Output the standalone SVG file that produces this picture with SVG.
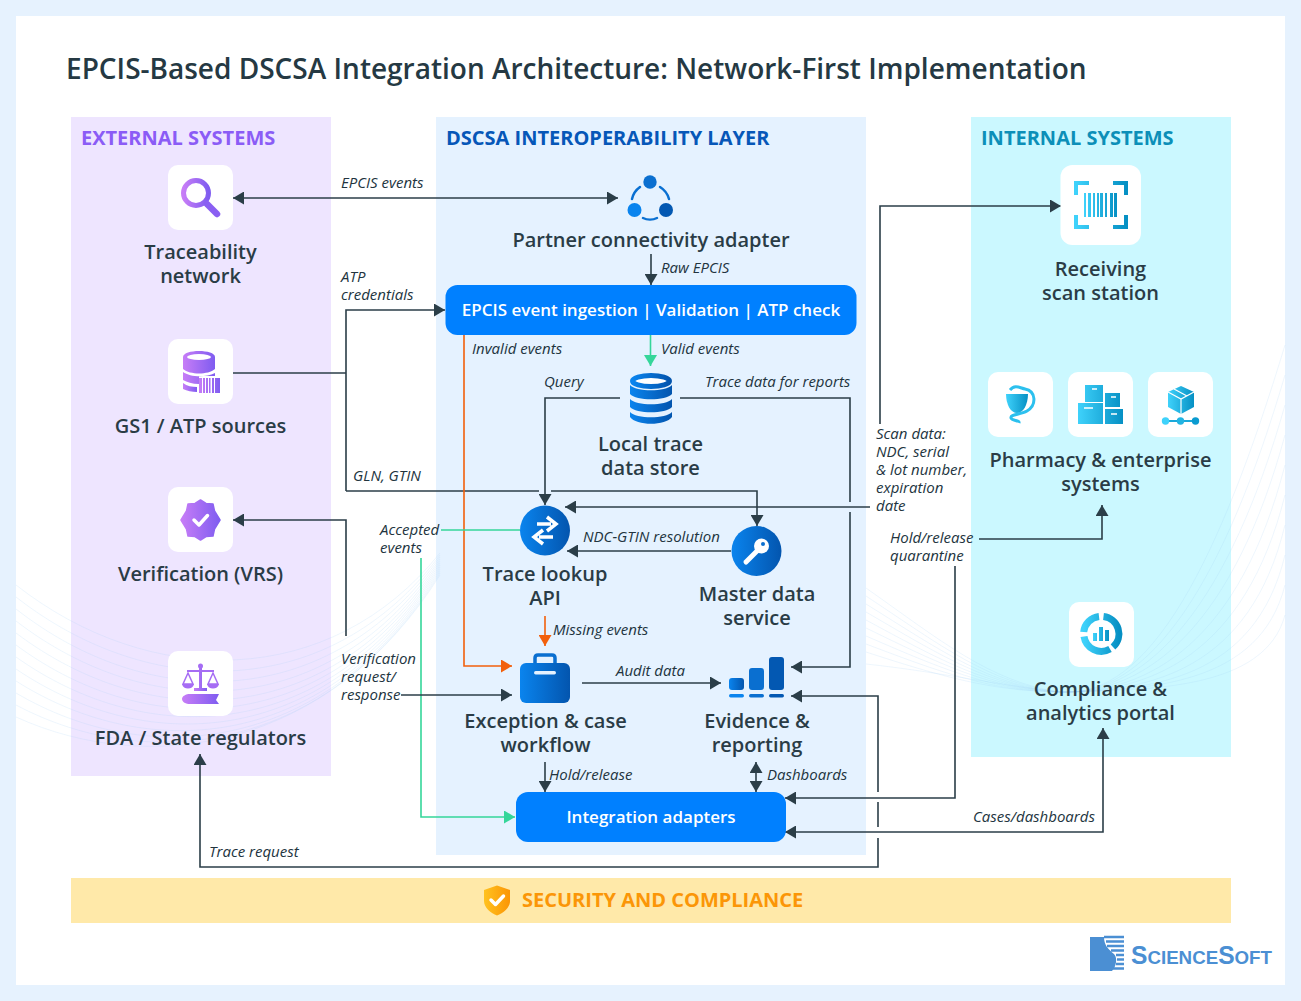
<svg xmlns="http://www.w3.org/2000/svg" width="1301" height="1001" viewBox="0 0 1301 1001">
<style>
text{font-family:"Open Sans","Noto Sans","Liberation Sans",sans-serif}
.title{font-size:28px;font-weight:600;fill:#253943}
.hd{font-size:20px;font-weight:700}
.n{font-size:20px;font-weight:600;fill:#2A3C46;text-anchor:middle}
.l{font-size:15px;font-style:italic;fill:#22343E}
.w{font-size:17px;font-weight:600;fill:#fff;text-anchor:middle}
.tile{fill:#fff}
.c{fill:none;stroke:#2B3E48;stroke-width:1.6}
.g{fill:none;stroke:#35D69A;stroke-width:1.6}
.o{fill:none;stroke:#F2600C;stroke-width:1.6}
.wv{fill:none;stroke:#9CCBF2;stroke-width:.8;opacity:.22}
.pu{fill:url(#pu)}
.bl{fill:url(#bl)}
.cy{fill:url(#cy)}
</style>
<defs>
<linearGradient id="pu"><stop offset="0" stop-color="#C77DF7"/><stop offset="1" stop-color="#7F5CF0"/></linearGradient>
<linearGradient id="bl"><stop offset="0" stop-color="#0A84EE"/><stop offset="1" stop-color="#0355AE"/></linearGradient>
<linearGradient id="cy"><stop offset="0" stop-color="#3FD2FB"/><stop offset="1" stop-color="#0690C4"/></linearGradient>
<linearGradient id="ye"><stop offset="0" stop-color="#FFC21F"/><stop offset="1" stop-color="#FB9505"/></linearGradient>
<marker id="a" markerUnits="userSpaceOnUse" markerWidth="12" markerHeight="13" refX="11" refY="6.500" orient="auto-start-reverse"><path d="M0,0L11,6.500L0,13Z" fill="#2B3E48"/></marker>
<marker id="ag" markerUnits="userSpaceOnUse" markerWidth="12" markerHeight="13" refX="11" refY="6.500" orient="auto"><path d="M0,0L11,6.500L0,13Z" fill="#35D69A"/></marker>
<marker id="ao" markerUnits="userSpaceOnUse" markerWidth="12" markerHeight="13" refX="11" refY="6.500" orient="auto"><path d="M0,0L11,6.500L0,13Z" fill="#F2600C"/></marker>
</defs>

<rect width="1301" height="1001" fill="#E6F2FE"/>
<rect x="16" y="16" width="1269" height="969" fill="#fff"/>
<text class="title" x="66" y="79">EPCIS-Based DSCSA Integration Architecture: Network-First Implementation</text>

<g id="panels">
<rect x="71" y="117" width="260" height="659" fill="#EEE5FF"/>
<rect x="436" y="117" width="430" height="738" fill="#E5F2FF"/>
<rect x="971" y="117" width="260" height="640" fill="#CBF8FF"/>
<rect x="71" y="878" width="1160" height="45" fill="#FFE9A9"/>
<text class="hd" x="81" y="145" fill="#8B5CF6">EXTERNAL SYSTEMS</text>
<text class="hd" x="446" y="145" fill="#0657B8">DSCSA INTEROPERABILITY LAYER</text>
<text class="hd" x="981" y="145" fill="#0C8FB8">INTERNAL SYSTEMS</text>
</g>

<g id="waves">
<path class="wv" d="M16,585C150,690 330,690 440,553"/>
<path class="wv" d="M16,597C150,702 330,702 440,555"/>
<path class="wv" d="M16,609C150,714 330,712 440,557"/>
<path class="wv" d="M16,621C150,724 330,722 440,559"/>
<path class="wv" d="M16,633C150,734 330,730 440,561"/>
<path class="wv" d="M16,645C150,744 330,736 440,563"/>
<path class="wv" d="M16,657C150,752 330,742 440,565"/>
<path class="wv" d="M16,669C150,760 330,746 440,567"/>
<path class="wv" d="M16,681C150,766 330,750 440,569"/>
<path class="wv" d="M16,693C150,772 330,752 440,571"/>
<path class="wv" d="M16,705C150,776 330,752 440,573"/>
<path class="wv" d="M16,717C150,778 330,750 440,575"/>
<path class="wv" d="M866,588C940,640 990,682 1060,692C1150,700 1220,560 1285,345"/>
<path class="wv" d="M866,596C940,645 990,684 1060,692C1150,698 1225,580 1285,375"/>
<path class="wv" d="M866,604C940,650 990,686 1060,692C1150,696 1230,600 1285,405"/>
<path class="wv" d="M866,612C940,655 990,687 1060,692C1150,695 1235,620 1285,435"/>
<path class="wv" d="M866,620C940,660 990,688 1060,692C1150,694 1240,640 1285,465"/>
<path class="wv" d="M866,628C940,664 990,689 1060,692C1150,693 1245,655 1285,495"/>
<path class="wv" d="M866,636C940,668 990,690 1060,692C1150,692 1250,670 1285,525"/>
<path class="wv" d="M866,644C940,672 990,691 1060,692C1150,691 1255,680 1285,555"/>
<path class="wv" d="M866,652C940,676 990,691 1060,692C1150,690 1260,685 1285,585"/>
<path class="wv" d="M866,664C940,672 990,684 1060,692C1150,690 1265,690 1285,615"/>
</g>

<g id="connectors">
<path class="c" d="M233,198H618" marker-start="url(#a)" marker-end="url(#a)"/>
<path class="c" d="M233,373H346"/>
<path class="c" d="M346,491V310H445" marker-end="url(#a)"/>
<path class="c" d="M346,491H539"/>
<path class="c" d="M551,491H757V526" marker-end="url(#a)"/>
<path class="c" d="M620,398H545V505" marker-end="url(#a)"/>
<path class="c" d="M680,398H850V502"/>
<path class="c" d="M850,512V667H791" marker-end="url(#a)"/>
<path class="c" d="M651,254V285" marker-end="url(#a)"/>
<path class="g" d="M650.500,335V366" marker-end="url(#ag)"/>
<path class="o" d="M464,335V666H512" marker-end="url(#ao)"/>
<path class="g" d="M441,530H520"/>
<path class="g" d="M421,558V817H515" marker-end="url(#ag)"/>
<path class="c" d="M346,636V520H233" marker-end="url(#a)"/>
<path class="c" d="M401,695H512" marker-end="url(#a)"/>
<path class="c" d="M880,424V206H1061" marker-end="url(#a)"/>
<path class="c" d="M870,507H565" marker-end="url(#a)"/>
<path class="c" d="M979,539H1102V505" marker-end="url(#a)"/>
<path class="c" d="M955,566V798H785" marker-end="url(#a)"/>
<path class="c" d="M785,832H1103V728" marker-start="url(#a)" marker-end="url(#a)"/>
<path class="c" d="M878,792V696H791" marker-end="url(#a)"/>
<path class="c" d="M878,802V827"/>
<path class="c" d="M878,838V867H200V754" marker-end="url(#a)"/>
<path class="c" d="M731,551H567" marker-end="url(#a)"/>
<path class="o" d="M545,616V646" marker-end="url(#ao)"/>
<path class="c" d="M582,683H721" marker-end="url(#a)"/>
<path class="c" d="M545,762V792" marker-end="url(#a)"/>
<path class="c" d="M756,762V792" marker-start="url(#a)" marker-end="url(#a)"/>
</g>

<g id="connector-labels">
<text class="l" x="341" y="188">EPCIS events</text>
<text class="l" x="341" y="282">ATP</text>
<text class="l" x="341" y="300">credentials</text>
<text class="l" x="353" y="481">GLN, GTIN</text>
<text class="l" x="380" y="535">Accepted</text>
<text class="l" x="380" y="553">events</text>
<text class="l" x="341" y="664">Verification</text>
<text class="l" x="341" y="682">request/</text>
<text class="l" x="341" y="700">response</text>
<text class="l" x="661" y="273">Raw EPCIS</text>
<text class="l" x="472" y="354">Invalid events</text>
<text class="l" x="661" y="354">Valid events</text>
<text class="l" x="544" y="387">Query</text>
<text class="l" x="705" y="387">Trace data for reports</text>
<text class="l" x="583" y="542">NDC-GTIN resolution</text>
<text class="l" x="553" y="635">Missing events</text>
<text class="l" x="616" y="676">Audit data</text>
<text class="l" x="549" y="780">Hold/release</text>
<text class="l" x="767" y="780">Dashboards</text>
<text class="l" x="876" y="439">Scan data:</text>
<text class="l" x="876" y="457">NDC, serial</text>
<text class="l" x="876" y="475">&amp; lot number,</text>
<text class="l" x="876" y="493">expiration</text>
<text class="l" x="876" y="511">date</text>
<text class="l" x="890" y="543">Hold/release</text>
<text class="l" x="890" y="561">quarantine</text>
<text class="l" x="973" y="822">Cases/dashboards</text>
<text class="l" x="209" y="857">Trace request</text>
</g>

<g id="traceability-network">
<rect class="tile" x="168" y="165" width="65" height="65" rx="10"/>
<circle cx="196" cy="193" r="12.500" fill="none" stroke="url(#pu)" stroke-width="5"/>
<path d="M207,204L217,214" stroke="#8A5FF2" stroke-width="6.500" stroke-linecap="round"/>
<text class="n" x="200.500" y="259">Traceability</text>
<text class="n" x="200.500" y="283">network</text>
</g>
<g id="gs1-atp-sources">
<rect class="tile" x="168" y="339" width="65" height="65" rx="10"/>
<path class="pu" d="M183,357C183,349 215,349 215,357V369C208,375 190,375 183,369Z"/>
<ellipse cx="199" cy="357" rx="12" ry="3" fill="#fff"/>
<path class="pu" d="M183,372C190,377 205,378 215,373V376H199V384C192,384 187,382 183,380Z"/>
<path class="pu" d="M183,383C187,386 192,387 197,387V392C192,392 187,391 183,389Z"/>
<path class="pu" d="M199,378h3v15h-3zM203,378h2v15h-2zM206,378h2v15h-2zM209,378h1.500v15h-1.500zM212,378h2v15h-2zM215,378h5v15h-5z"/>
<text class="n" x="200.500" y="433">GS1 / ATP sources</text>
</g>
<g id="verification-vrs">
<rect class="tile" x="168" y="487" width="65" height="65" rx="10"/>
<path class="pu" d="M200.500,500L206,503.500L213,504L214.500,511L220,520L214.500,529L213,536L206,536.500L200.500,540L195,536.500L188,536L186.500,529L181,520L186.500,511L188,504L195,503.500Z" stroke="url(#pu)" stroke-width="1.500" stroke-linejoin="round"/>
<path d="M194,520L199,525L207.500,515.500" fill="none" stroke="#fff" stroke-width="3.500" stroke-linecap="round" stroke-linejoin="round"/>
<text class="n" x="200.500" y="581">Verification (VRS)</text>
</g>
<g id="fda-state-regulators">
<rect class="tile" x="168" y="651" width="65" height="65" rx="10"/>
<circle cx="200.500" cy="666" r="2.500" fill="#A66DF4"/>
<path class="pu" d="M199,668h3v20h5v3h-13v-3h5z"/>
<path d="M187,671H214" stroke="#A66DF4" stroke-width="2"/>
<path d="M188,673L183,684H193Z M213,673L208,684H218Z" fill="none" stroke="#A66DF4" stroke-width="1.500"/>
<path d="M182,684H194C193,690 183,690 182,684ZM207,684H219C218,690 208,690 207,684Z" fill="#A66DF4"/>
<path class="pu" d="M190,694H219L216,700L219,704H190C186,704 182,702 182,699C182,696 186,694 190,694Z"/>
<text class="n" x="200.500" y="745">FDA / State regulators</text>
</g>

<g id="partner-connectivity-adapter">
<circle cx="650" cy="182" r="6.700" fill="#0A6FD0"/>
<circle cx="634.500" cy="210" r="7" fill="#0A84EE"/>
<circle cx="666" cy="210" r="7" fill="#0358B2"/>
<path d="M640,187A20,20 0 0 0 632,199M660,187A20,20 0 0 1 669,199M643,218C647,220 653,220 657,218" fill="none" stroke="#0A70D2" stroke-width="2.500" stroke-linecap="round"/>
<text class="n" x="651" y="247">Partner connectivity adapter</text>
</g>
<g id="epcis-ingestion">
<rect x="445.500" y="285" width="411" height="50" rx="12" fill="#0080FF"/>
<text class="w" x="651" y="316">EPCIS event ingestion  |  Validation  |  ATP check</text>
</g>
<g id="local-trace-data-store">
<ellipse cx="651" cy="381" rx="18.500" ry="5.500" fill="#fff" stroke="url(#bl)" stroke-width="5"/>
<path class="bl" d="M630,385C636,392 666,392 672,385V394C666,401 636,401 630,394Z"/>
<path class="bl" d="M630,399C636,406 666,406 672,399V407C666,414 636,414 630,407Z"/>
<path class="bl" d="M630,412C636,419 666,419 672,412V417C666,426 636,426 630,417Z"/>
<text class="n" x="650.500" y="451">Local trace</text>
<text class="n" x="650.500" y="475">data store</text>
</g>
<g id="trace-lookup-api">
<circle class="bl" cx="545" cy="530.500" r="25"/>
<path d="M537,524H551M547,517L556,524L547,531" fill="none" stroke="#fff" stroke-width="3.500"/>
<path d="M553,537H539M543,530L534,537L543,544" fill="none" stroke="#fff" stroke-width="3.500"/>
<text class="n" x="545" y="581">Trace lookup</text>
<text class="n" x="545" y="605">API</text>
</g>
<g id="master-data-service">
<circle class="bl" cx="756.500" cy="551" r="25"/>
<circle cx="761.500" cy="546" r="7.500" fill="#fff"/>
<circle cx="763" cy="544" r="2" fill="#0A6FD0"/>
<path d="M757,551L746,562" stroke="#fff" stroke-width="5" stroke-linecap="round"/>
<text class="n" x="757" y="601">Master data</text>
<text class="n" x="757" y="625">service</text>
</g>
<g id="exception-case-workflow">
<path d="M535,663V658Q535,655 538,655H552Q555,655 555,658V663" fill="none" stroke="#0A6FD0" stroke-width="3.500"/>
<rect class="bl" x="520" y="663" width="50" height="40" rx="6"/>
<rect x="534" y="671" width="22" height="3.500" rx="1.700" fill="#E5F2FF"/>
<text class="n" x="545.500" y="728">Exception &amp; case</text>
<text class="n" x="545.500" y="752">workflow</text>
</g>
<g id="evidence-reporting">
<rect class="bl" x="729" y="678" width="15" height="12" rx="3"/>
<rect x="749" y="668" width="15" height="22" rx="3" fill="#0A6FD0"/>
<rect x="769" y="657" width="15" height="33" rx="3" fill="#0358B2"/>
<rect x="729" y="694" width="15" height="3.500" rx="1.700" fill="#0A84EE"/>
<rect x="749" y="694" width="15" height="3.500" rx="1.700" fill="#0A6FD0"/>
<rect x="769" y="694" width="15" height="3.500" rx="1.700" fill="#0358B2"/>
<text class="n" x="757" y="728">Evidence &amp;</text>
<text class="n" x="757" y="752">reporting</text>
</g>
<g id="integration-adapters">
<rect x="516" y="792" width="270" height="50" rx="12" fill="#0080FF"/>
<text class="w" x="651" y="823">Integration adapters</text>
</g>

<g id="receiving-scan-station">
<rect class="tile" x="1060.500" y="165" width="80.500" height="80" rx="12"/>
<path d="M1089,183H1076V195M1113,183H1126V195M1089,227H1076V215M1113,227H1126V215" fill="none" stroke="url(#cy)" stroke-width="4"/>
<path class="cy" d="M1084,193h2v24h-2zM1088,193h3v24h-3zM1093,193h2v24h-2zM1097,193h2v24h-2zM1100,193h3v24h-3zM1105,193h2v24h-2zM1110,193h3v24h-3zM1114,193h3v24h-3z"/>
<text class="n" x="1100.500" y="276">Receiving</text>
<text class="n" x="1100.500" y="300">scan station</text>
</g>
<g id="pharmacy-enterprise-systems">
<rect class="tile" x="988" y="372" width="65" height="65" rx="10"/>
<rect class="tile" x="1068" y="372" width="65" height="65" rx="10"/>
<rect class="tile" x="1148" y="372" width="65" height="65" rx="10"/>
<path class="cy" d="M1006,394H1028C1028,405 1023,413 1017,413C1011,413 1006,405 1006,394Z"/>
<path d="M1010,390C1015,384 1020,388 1025,389C1036,391 1037,405 1027,411C1020,415 1010,414 1011,418C1012,421 1020,420 1019,423" fill="none" stroke="#2CC0EE" stroke-width="3"/>
<path class="cy" d="M1085,385h18v17h-18zM1105,393h15v14h-15zM1078,403h25v21h-25zM1105,409h18v15h-18z"/>
<path d="M1092,389h5M1111,397h5M1084,408h9M1111,414h6" stroke="#fff" stroke-width="1.500"/>
<path class="cy" d="M1181,386L1194,392V407L1181,414L1168,407V392Z"/>
<path d="M1168,392L1181,399L1194,392M1181,399V414M1174,389L1187,396" fill="none" stroke="#fff" stroke-width="1.200"/>
<path d="M1165,421H1196" stroke="#1AA9DA" stroke-width="2"/>
<circle cx="1165.500" cy="421" r="3.700" fill="#3FD2FB"/><circle cx="1180.500" cy="421" r="3.700" fill="#22B4E2"/><circle cx="1195.500" cy="421" r="3.700" fill="#0A9BD0"/>
<text class="n" x="1100.500" y="467">Pharmacy &amp; enterprise</text>
<text class="n" x="1100.500" y="491">systems</text>
</g>
<g id="compliance-analytics-portal">
<rect class="tile" x="1069" y="602" width="65" height="65" rx="10"/>
<path d="M1099,616.500A17.500,17.500 0 0 0 1083.700,632M1103.500,616.500A17.500,17.500 0 0 1 1113,647M1084,636.500A17.500,17.500 0 0 0 1110,649" fill="none" stroke="url(#cy)" stroke-width="7"/>
<path class="cy" d="M1093,633h4v8h-4zM1099,627h4v14h-4zM1105,630h4v11h-4z"/>
<text class="n" x="1100.500" y="696">Compliance &amp;</text>
<text class="n" x="1100.500" y="720">analytics portal</text>
</g>

<g id="security-compliance">
<path d="M497,885.500L510,890V901C510,908 503,913 497,915.500C491,913 484,908 484,901V890Z" fill="url(#ye)"/>
<path d="M491,900L495.500,904.500L503.500,896" fill="none" stroke="#fff" stroke-width="3.500" stroke-linecap="round" stroke-linejoin="round"/>
<text x="522" y="907" font-size="20" font-weight="700" fill="#FB9607">SECURITY AND COMPLIANCE</text>
</g>

<g id="logo">
<path d="M1090,937H1104C1104,945 1108,949 1114,954C1118,958 1116,967 1112,971H1090Z" fill="#4B8FD3"/>
<path d="M1104,937H1124M1106,941.500H1124M1107,946H1124M1111,950.500H1124M1116,955H1124M1117,959.500H1124M1116,964H1124M1113,968.500H1124" stroke="#4B8FD3" stroke-width="2.500"/>
<text x="1131" y="964" style="font-family:'Liberation Sans',sans-serif" font-weight="700" font-size="25" fill="#4B8FD3" textLength="141" lengthAdjust="spacingAndGlyphs">S<tspan font-size="19">CIENCE</tspan>S<tspan font-size="19">OFT</tspan></text>
</g>
</svg>
